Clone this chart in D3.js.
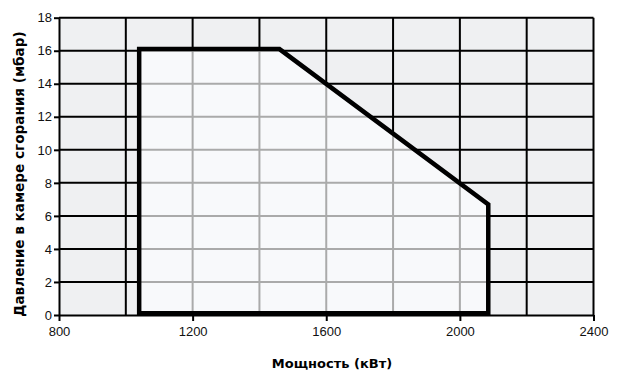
<!DOCTYPE html>
<html><head><meta charset="utf-8">
<script src="https://cdn.jsdelivr.net/npm/d3@7"></script>
<style>body{margin:0;background:#fff}</style>
</head><body>
<svg id="c" width="618" height="371"></svg>
<script>
const powerKW = [1040, 1040, 1460, 2085, 2085];
const pressureMbar = [0.1, 16.1, 16.1, 6.7, 0.1];
const xTickLabels = [800, 1200, 1600, 2000, 2400];
const yTickLabels = [0, 2, 4, 6, 8, 10, 12, 14, 16, 18];
const xGrid = [1000, 1200, 1400, 1600, 1800, 2000, 2200, 2400];
const xTitle = "Мощность (кВт)";
const yTitle = "Давление в камере сгорания (мбар)";

const svg = d3.select("#c");
const x = d3.scaleLinear().domain([800, 2400]).range([59, 593.5]);
const y = d3.scaleLinear().domain([0, 18]).range([315, 17.7]);
const pts = powerKW.map((p, i) => [x(p), y(pressureMbar[i])]);

svg.append("rect").attr("x", x(800)).attr("y", y(18))
  .attr("width", x(2400) - x(800)).attr("height", y(0) - y(18)).attr("fill", "#eff0f2");

const g = svg.append("g");
g.selectAll(".vg").data(xGrid).join("line")
  .attr("x1", d => x(d)).attr("x2", d => x(d)).attr("y1", y(18)).attr("y2", y(0))
  .attr("stroke", "#000").attr("stroke-width", 2);
g.selectAll(".hg").data(yTickLabels.slice(1)).join("line").attr("class","hg")
  .attr("x1", x(800)).attr("x2", x(2400)).attr("y1", d => y(d)).attr("y2", d => y(d))
  .attr("stroke", "#000").attr("stroke-width", 2);

svg.append("clipPath").attr("id", "poly").append("polygon").attr("points", pts.map(p => p.join(",")).join(" "));
svg.append("polygon").attr("points", pts.map(p => p.join(",")).join(" ")).attr("fill", "#f8f9fb");
const gi = svg.append("g").attr("clip-path", "url(#poly)");
gi.selectAll(".vgi").data(xGrid).join("line")
  .attr("x1", d => x(d)).attr("x2", d => x(d)).attr("y1", y(18)).attr("y2", y(0))
  .attr("stroke", "#aaaaaa").attr("stroke-width", 2);
gi.selectAll(".hgi").data(yTickLabels.slice(1)).join("line")
  .attr("x1", x(800)).attr("x2", x(2400)).attr("y1", d => y(d)).attr("y2", d => y(d))
  .attr("stroke", "#aaaaaa").attr("stroke-width", 2);

svg.append("polygon").attr("points", pts.map(p => p.join(",")).join(" "))
  .attr("fill", "none").attr("stroke", "#000").attr("stroke-width", 4.5).attr("stroke-linejoin", "miter");

const xa = svg.append("g").attr("transform", `translate(0,${y(0)})`)
  .call(d3.axisBottom(x).tickValues(xTickLabels).tickFormat(d3.format("d")).tickSize(6).tickSizeOuter(0).tickPadding(6));
const ya = svg.append("g").attr("transform", `translate(${x(800)},0)`)
  .call(d3.axisLeft(y).tickValues(yTickLabels).tickFormat(d3.format("d")).tickSize(5).tickSizeOuter(0).tickPadding(2));
[xa, ya].forEach(a => {
  a.selectAll("path,line").attr("stroke", "#000").attr("stroke-width", 2);
  a.selectAll("text").attr("font-family", "Liberation Sans, Arial, sans-serif").attr("font-size", 13).attr("fill", "#111");
});

svg.append("text").attr("x", 332).attr("y", 368).attr("text-anchor", "middle")
  .attr("font-family", "DejaVu Sans, sans-serif").attr("font-weight", "bold").attr("font-size", 13)
  .text(xTitle);
svg.append("text").attr("transform", `translate(24,174) rotate(-90)`).attr("text-anchor", "middle")
  .attr("font-family", "DejaVu Sans, sans-serif").attr("font-weight", "bold").attr("font-size", 13.6)
  .text(yTitle);
</script>
</body></html>
